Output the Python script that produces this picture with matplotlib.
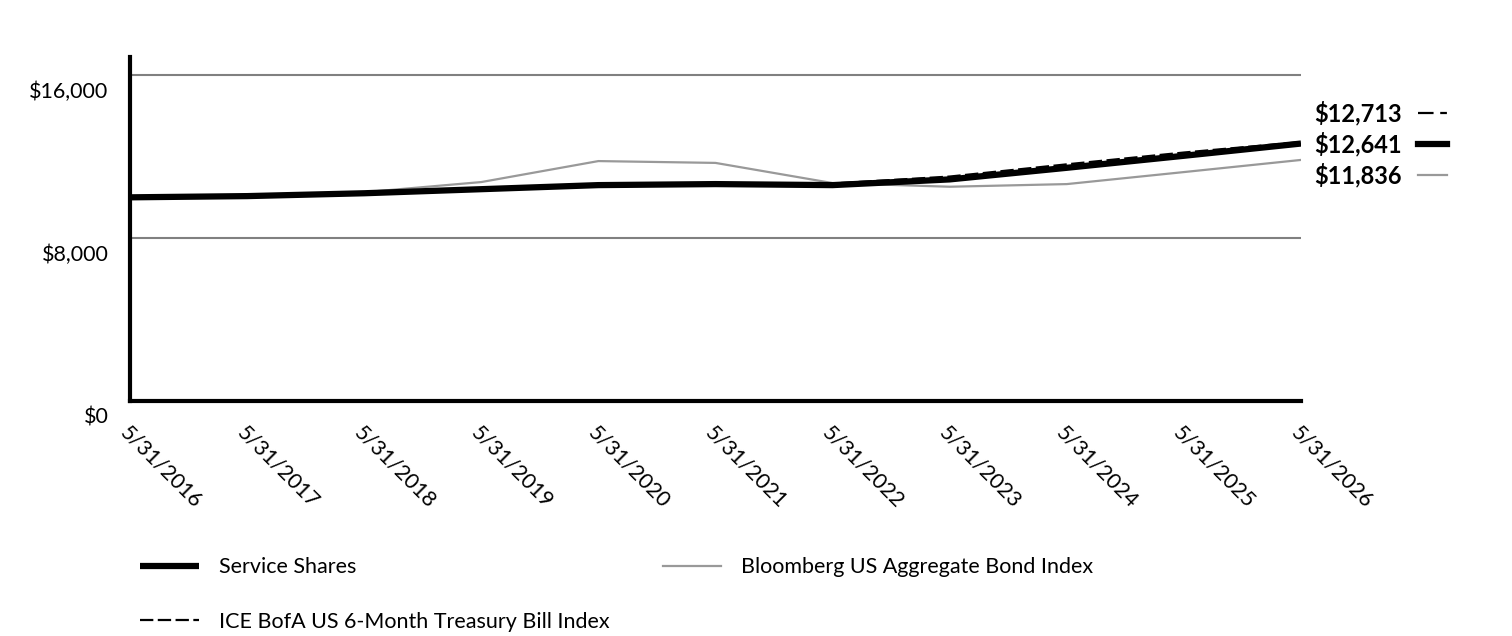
import matplotlib
matplotlib.use("Agg")
import matplotlib.pyplot as plt
import matplotlib.transforms as mtransforms
from matplotlib.lines import Line2D

plt.rcParams["font.family"] = ["Lato", "DejaVu Sans"]

# data
dates = ["5/31/2016", "5/31/2017", "5/31/2018", "5/31/2019", "5/31/2020", "5/31/2021",
         "5/31/2022", "5/31/2023", "5/31/2024", "5/31/2025", "5/31/2026"]
service = [10000, 10060, 10200, 10400, 10600, 10650, 10600, 10880, 11450, 12040, 12641]
bloomberg = [10000, 10100, 10250, 10750, 11780, 11690, 10700, 10520, 10650, 11240, 11836]
treasury = [10000, 10060, 10200, 10430, 10620, 10660, 10680, 11020, 11620, 12200, 12713]

yticks = [0, 8000, 16000]
ytick_labels = ["$0", "$8,000", "$16,000"]

GRAY = "#999999"
FS = 15.5

fig = plt.figure(figsize=(15.12, 6.36), dpi=100)
ax = fig.add_axes([130 / 1512, 1 - 401 / 636, (1301 - 130) / 1512, (401 - 57) / 636])

x = list(range(len(dates)))
for y in yticks[1:]:
    ax.axhline(y, color="#808080", lw=1.5, zorder=1)

ax.plot(x, bloomberg, color=GRAY, lw=1.6, zorder=2, label="Bloomberg US Aggregate Bond Index")
ax.plot(x, service, color="black", lw=4.5, zorder=3, label="Service Shares",
        solid_capstyle="butt")
ax.plot(x, treasury, color="black", lw=1.6, dashes=(6, 2), zorder=4,
        label="ICE BofA US 6-Month Treasury Bill Index")

ax.set_xlim(0, len(dates) - 1)
ax.set_ylim(0, 16890)

for side in ["top", "right"]:
    ax.spines[side].set_visible(False)
for side in ["left", "bottom"]:
    ax.spines[side].set_linewidth(3)
    ax.spines[side].set_color("black")

ax.set_yticks(yticks)
ax.set_yticklabels(ytick_labels, fontsize=FS)
ax.tick_params(axis="y", length=0, pad=15.5)
shift = mtransforms.ScaledTranslation(0, -15 / 100, fig.dpi_scale_trans)
for lab in ax.get_yticklabels():
    lab.set_transform(lab.get_transform() + shift)

ax.set_xticks(x)
ax.set_xticklabels(dates, fontsize=FS, rotation=-45, ha="left", va="top",
                   rotation_mode="anchor")
ax.tick_params(axis="x", length=0, pad=15)

# end-of-line value labels with line samples
end_items = [
    (treasury[-1], dict(color="black", lw=1.6, dashes=(7, 3, 3, 3)), 113),
    (service[-1], dict(color="black", lw=4.5), 144),
    (bloomberg[-1], dict(color=GRAY, lw=1.6), 175),
]
for val, style, ypx in end_items:
    yf = 1 - ypx / 636
    fig.text(1402 / 1512, yf, "${:,.0f}".format(val), fontsize=17, fontweight="bold",
             ha="right", va="center")
    fig.add_artist(Line2D([1418 / 1512, 1447 / 1512], [yf, yf], transform=fig.transFigure,
                          **style))

handles, labels = ax.get_legend_handles_labels()
order = [1, 2, 0]
leg = fig.legend([handles[i] for i in order], [labels[i] for i in order],
                 loc="upper left", bbox_to_anchor=(121 / 1512, 1 - 538 / 636),
                 ncol=2, frameon=False, fontsize=FS, handlelength=2.7,
                 handletextpad=0.93, columnspacing=2.5, labelspacing=1.6)

fig.savefig("out.png", dpi=100)
